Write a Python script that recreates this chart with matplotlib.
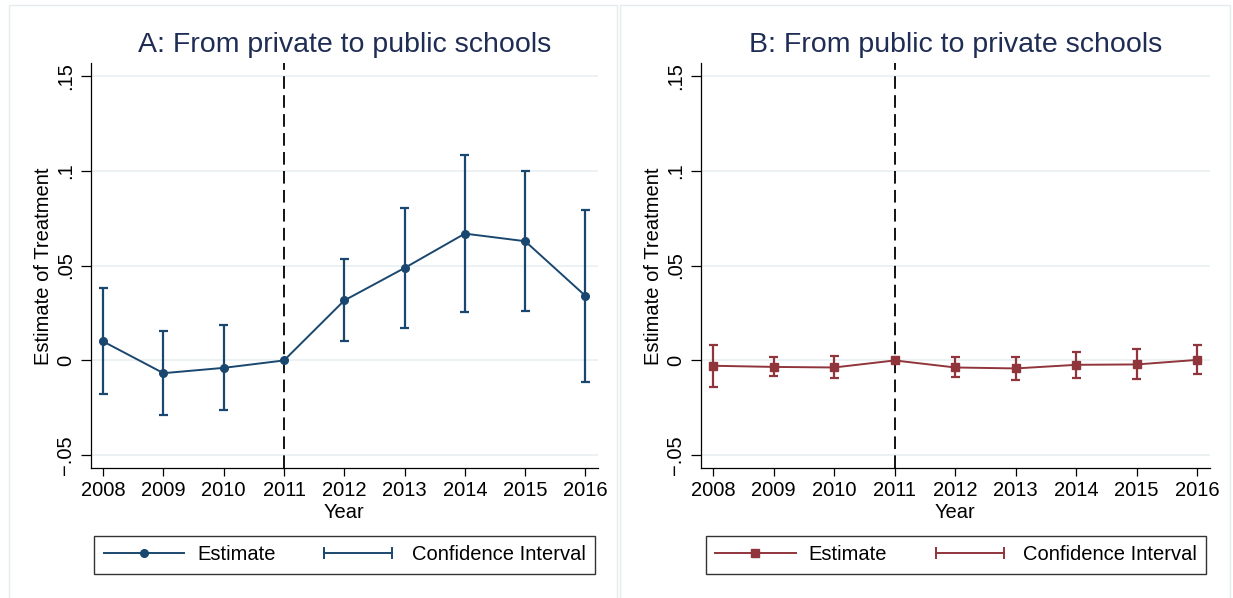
import matplotlib
matplotlib.use("Agg")
import matplotlib.pyplot as plt
from matplotlib.lines import Line2D
from matplotlib.legend_handler import HandlerLine2D
from matplotlib.patches import Rectangle

plt.rcParams['font.family'] = ['Liberation Sans', 'DejaVu Sans']

years = [2008, 2009, 2010, 2011, 2012, 2013, 2014, 2015, 2016]

# Panel A: From private to public schools
est_a = [0.0100, -0.0067, -0.0039, 0.0, 0.0316, 0.0487, 0.0668, 0.0628, 0.0340]
lo_a = [-0.0177, -0.0288, -0.0262, None, 0.0102, 0.0170, 0.0256, 0.0258, -0.0116]
hi_a = [0.0379, 0.0154, 0.0189, None, 0.0535, 0.0802, 0.1082, 0.0998, 0.0795]

# Panel B: From public to private schools
est_b = [-0.0028, -0.0034, -0.0037, 0.0, -0.0037, -0.0042, -0.0023, -0.0021, 0.0003]
lo_b = [-0.0139, -0.0083, -0.0091, None, -0.0088, -0.0104, -0.0091, -0.0097, -0.0072]
hi_b = [0.0080, 0.0017, 0.0021, None, 0.0017, 0.0017, 0.0045, 0.0058, 0.0079]

yticks = [-0.05, 0, 0.05, 0.1, 0.15]
ytick_labels = ["\u2212.05", "0", ".05", ".1", ".15"]
titles = ["A: From private to public schools", "B: From public to private schools"]
colors = ["#1a476f", "#90353b"]
markers = ["o", "s"]
event_year = 2011

W, H = 1233, 598
fig = plt.figure(figsize=(W / 100, H / 100), dpi=100)
fig.patch.set_facecolor("white")

# panel borders
border_col = "#e4ecef"
for (x0, x1) in [(9, 617), (620, 1230)]:
    fig.patches.append(Rectangle((x0 / W, -0.01), (x1 - x0) / W, 1 - 5 / H + 0.01,
                                 transform=fig.transFigure, fill=False,
                                 edgecolor=border_col, lw=1.0, zorder=0))

axes_px = [(90.5, 598.4), (700.5, 1210.2)]
top_px, bot_px = 63.3, 468.3
legend_cx = [344.5, 956]

data = [(est_a, lo_a, hi_a), (est_b, lo_b, hi_b)]

for i in range(2):
    l, r = axes_px[i]
    ax = fig.add_axes([l / W, 1 - bot_px / H, (r - l) / W, (bot_px - top_px) / H])
    est, lo, hi = data[i]
    c = colors[i]

    ax.set_xlim(2007.79, 2016.215)
    ax.set_ylim(-0.0568, 0.1565)

    for y in yticks:
        ax.axhline(y, color="#eaf1f3", lw=1.3, zorder=0)

    ax.axvline(event_year, color="black", lw=1.3, dashes=(7, 3.5), zorder=1)

    # confidence intervals
    cy = [y for y, a in zip(years, lo) if a is not None]
    clo = [a for a in lo if a is not None]
    chi = [b for b in hi if b is not None]
    ax.vlines(cy, clo, chi, color=c, lw=1.6, zorder=2)
    ax.hlines(clo, [x - 0.075 for x in cy], [x + 0.075 for x in cy], color=c, lw=1.6, zorder=2)
    ax.hlines(chi, [x - 0.075 for x in cy], [x + 0.075 for x in cy], color=c, lw=1.6, zorder=2)

    ax.plot(years, est, color=c, lw=1.4, marker=markers[i], markersize=5.5, zorder=3)

    ax.set_xticks(years)
    ax.set_xticklabels([str(y) for y in years])
    ax.set_yticks(yticks)
    ax.set_yticklabels(ytick_labels, rotation=90, va="center")
    ax.tick_params(axis="y", length=7, width=0.9, labelsize=14.5, pad=4)
    ax.tick_params(axis="x", length=6, width=0.9, labelsize=14.5, pad=3)
    for s in ["top", "right"]:
        ax.spines[s].set_visible(False)
    for s in ["left", "bottom"]:
        ax.spines[s].set_linewidth(0.9)
    ax.set_xlabel("Year", fontsize=14.5, labelpad=2)
    ax.set_ylabel("Estimate of Treatment", fontsize=14.5, labelpad=2)
    ax.set_title(titles[i], fontsize=20.5, color="#1f2d55", pad=8)

    h_est = Line2D([], [], color=c, lw=1.4, marker=markers[i], markersize=5.5)
    h_ci = Line2D([], [], color=c, lw=1.4, marker="|", markersize=9, markeredgewidth=1.4)
    leg = ax.legend([h_est, h_ci], ["Estimate", "Confidence Interval"],
                    handler_map={h_est: HandlerLine2D(numpoints=1),
                                 h_ci: HandlerLine2D(numpoints=2)},
                    loc="center", bbox_to_anchor=(legend_cx[i] / W, 1 - 555 / H),
                    bbox_transform=fig.transFigure, ncol=2, fontsize=14.5,
                    frameon=True, fancybox=False, edgecolor="black",
                    handlelength=4.0, handletextpad=0.65, columnspacing=2.1,
                    borderpad=0.45, borderaxespad=0)
    leg.get_frame().set_linewidth(1.0)

fig.savefig("out.png", dpi=100)
